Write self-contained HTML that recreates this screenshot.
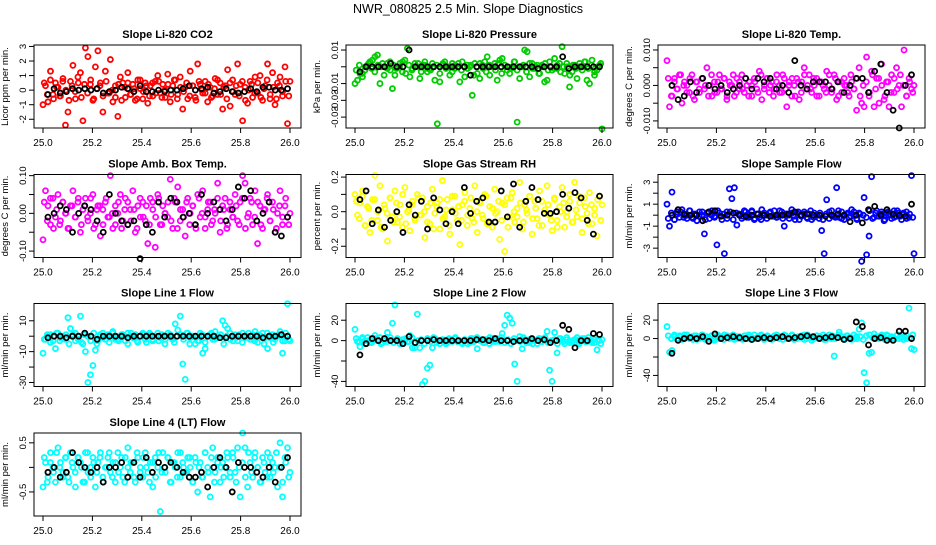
<!DOCTYPE html>
<html><head><meta charset="utf-8">
<style>
html,body{margin:0;padding:0;background:#fff;}
svg text{font-family:"Liberation Sans",sans-serif;}
</style></head>
<body>
<svg id="chart" width="936" height="540" viewBox="0 0 936 540" xmlns="http://www.w3.org/2000/svg">
<text x="468" y="13" text-anchor="middle" font-size="12.5">NWR_080825  2.5 Min. Slope Diagnostics</text>
</svg>
<script>
const xTicks = [25.0, 25.2, 25.4, 25.6, 25.8, 26.0];
const xTickLabels = ["25.0", "25.2", "25.4", "25.6", "25.8", "26.0"];
const co2Color = [-1.0,0.3,-0.8,1.3,-0.3,0.5,0.2,-0.4,0.8,-2.4,-1.5,0.6,1.7,-0.6,0.9,1.2,-2.1,2.9,2.3,0.4,-0.7,1.6,2.7,0.5,-1.5,1.3,-0.2,2.1,-0.8,0.3,-1.8,0.9,0.5,-0.5,1.2,-0.3,0.4,-0.7,0.7,0.1,-0.6,0.5,-0.9,0.3,-0.4,0.6,1.0,-0.2,0.4,-0.5,1.1,-0.8,0.3,0.7,-0.3,0.9,-1.3,0.2,-0.6,1.3,0.3,-0.5,1.8,0.4,-0.2,0.6,-0.8,0.2,-0.4,0.8,-0.3,0.5,-1.3,0.3,1.4,-1.1,0.7,-0.3,1.8,0.4,-2.1,0.2,-0.9,0.6,-0.5,0.9,-0.2,1.0,-0.7,0.3,1.8,-0.6,1.2,-1.0,0.5,0.9,-0.4,1.6,-2.3,0.6];
const co2Band = [5,-3,7,-6,2,-4,6,0,-7,3,-1,5,-5,4,-2,7,-6,1,3,-4,6,-2,0,-5,4,-7,2,5,-3,1,-6,7,-1,3,-4,5,-2,6,-5,0,4,-3,7,-6,2,-1,5,-4,3,-7,6,0,-2,4,-5,1,7,-3,2,-6,5,-1,3,-4,6,-7,0,4,-2,5,-5,1,7,-3,2,-6,3,-1,6,-4];
const co2Black = [-0.3,0.1,-0.2,-0.1,0.1,0.0,0.1,0.0,0.1,-0.2,-0.1,0.0,0.2,0.1,-0.1,0.3,-0.1,-0.1,0.0,-0.1,0.0,0.0,0.1,0.3,0.0,0.1,0.2,-0.2,-0.1,0.1,-0.1,-0.2,-0.1,0.1,-0.1,0.2,0.2,0.0,0.0,0.1];
const presColor = [-10,-8,-4,-6,-2,1,3,4,6,7,-10,2,0,-1,3,-13,-5,0,2,-3,4,11,-6,-1,2,0,-7,1,3,-3,-1,2,-8,-34,-9,1,3,0,-5,2,-1,0,-9,3,-6,1,0,-17,2,-4,-7,1,3,6,-5,0,2,-8,4,5,1,-2,-4,0,3,-33,-7,0,10,9,-6,2,-1,1,-4,0,-9,-8,3,-2,5,-1,2,12,-4,0,-12,-3,1,-7,2,0,3,-8,-10,4,-5,-2,1,-37];
const presBand = [-2,1,-4,0,2,-1,-3,1,0,-5,2,-2,1,-1,0,3,-4,1,-2,0,2,-3,1,-1,-2,0,1,-4,2,-1,0,-3,1,2,-2,0,-1,1,-5,0,2,-1,-3,1,0,-2,2,-4,1,0,-1,3,-2,0,1,-3,2,-1,0,-4,1,2,-2,0,-1,1,-3,0,2,-5,1,-1,0,-2,3,-1,1,-3,0,2];
const presBlack = [-3,0,0,0,0,2,0,0,10,0,0,0,0,0,0,0,0,0,-5,0,0,0,0,0,0,0,0,0,0,-1,0,0,0,6,-1,0,0,0,0,0];
const tempColor = [7,-6,-3,2,-1,3,-5,1,0,-2,3,-4,1,-2,2,-1,5,0,-3,1,-2,3,-1,2,-4,1,0,-3,2,-1,3,-2,0,1,-3,2,-1,4,-4,0,2,-2,1,-1,3,0,-2,2,-6,1,-3,0,2,-4,1,5,-1,3,-2,0,2,-3,1,-1,4,0,-2,3,-4,1,-2,2,0,-3,1,-1,-7,5,-5,-6,8,-3,4,-6,2,-5,6,-4,1,-6,3,-2,5,0,-6,10,-3,2,-1,0];
const tempBand = [2,-3,1,-1,3,0,-2,2,-3,1,-1,2,0,-3,3,-2,1,-1,2,-3,0,3,-2,1,-1,2,-3,0,1,-2,3,-1,2,0,-3,1,-2,3,-1,0,2,-3,1,-2,3,0,-1,2,-3,1,0,-2,3,-1,2,-3,1,0,-2,3,-1,2,-3,0,1,-2,3,-1,2,0,-3,1,-2,2,-1,3,0,-3,1,-2];
const tempBlack = [0,-4,-3,1,-2,2,0,-1,0,-2,-1,0,2,-1,2,1,2,-1,0,-2,7,0,-1,1,1,1,-1,1,-2,0,2,2,-2,4,6,-2,-7,-12,0,3];
const ambColor = [-7,6,2,-3,4,-1,5,-2,3,0,-4,2,6,-1,3,-5,1,4,-2,0,5,-3,2,-6,1,3,-1,10,-4,2,0,5,-2,4,-3,1,6,-5,2,-1,3,-2,-8,4,1,-9,5,-3,2,0,-1,9,-4,3,7,-2,1,-6,4,0,2,-3,5,-1,6,-4,1,3,-2,0,8,-5,2,4,-3,1,-1,5,-2,3,10,8,-1,4,-3,6,-8,2,-4,1,5,-2,3,-5,0,6,-3,2,-1,0];
const ambBand = [3,-2,4,-4,1,-3,3,0,-4,2,-1,4,-3,2,-1,4,-4,1,2,-3,4,-1,0,-3,3,-4,1,3,-2,1,-4,4,-1,2,-3,3,-1,4,-3,0,3,-2,4,-4,1,-1,3,-3,2,-4,4,0,-1,3,-3,1,4,-2,1,-4,3,-1,2,-3,4,-4,0,3,-1,3,-3,1,4,-2,1,-4,2,-1,4,-3];
const ambBlack = [-1,0,2,1,-5,0,2,1,-2,-5,5,0,-2,-3,-2,-12,-3,-5,3,-1,4,3,-1,0,-3,5,0,3,1,-2,1,7,4,6,-2,0,3,-5,-6,-1];
const rhColor = [10,-2,5,12,-8,3,-12,7,21,-5,15,-10,2,-17,8,-3,12,-6,4,-9,14,0,-11,6,-4,10,-2,8,-15,3,-7,13,-1,5,-10,18,-3,7,-13,1,9,-5,-19,4,11,-8,2,-4,15,-12,6,-2,10,-7,3,-9,13,0,-16,5,-23,8,-3,11,-6,2,17,-10,4,-1,9,-13,6,-4,12,-8,1,15,-2,-11,7,-5,3,14,-9,0,10,-6,17,-3,5,-12,8,-1,11,-7,2,-14,9,4];
const rhBand = [6,-4,9,-8,2,-5,7,0,-9,4,-1,8,-6,5,-3,10,-7,1,4,-5,8,-2,0,-6,5,-10,3,7,-4,1,-8,9,-1,3,-5,6,-2,8,-6,0,5,-4,9,-7,2,-1,6,-5,4,-9,8,0,-3,5,-6,1,9,-4,2,-8,6,-1,4,-5,8,-9,0,5,-3,6,-6,1,9,-4,3,-7,4,-2,7,-5];
const rhBlack = [7,12,-7,1,-9,-5,0,-12,4,-2,6,-10,8,1,-7,0,-7,14,-1,6,8,-6,-6,12,-3,16,-9,6,14,7,-1,-1,0,10,2,11,8,-5,-13,9];
const sampColor = [10,-10,21,-4,3,-2,5,0,-3,4,-2,1,-5,3,0,-17,2,-3,4,-1,-27,2,-4,-35,3,24,15,25,-9,1,-3,4,-2,0,3,-4,1,-2,5,0,-3,2,-1,4,-2,0,3,-10,1,-3,5,-1,2,-4,0,3,-2,1,-4,2,0,-3,-14,-35,14,-3,4,-1,25,-2,3,-4,1,-2,5,0,-3,2,-42,16,-36,-19,35,-2,4,-1,3,-5,2,0,-3,4,-1,2,-4,1,3,-2,36,-35];
const sampBand = [-3,2,-4,1,3,-2,0,4,-3,1,-1,3,-4,2,0,-2,4,-1,1,-3,3,-4,2,0,-1,3,-2,4,-3,1,-4,2,0,3,-1,-2,4,-3,1,0,2,-4,3,-1,1,-3,4,-2,0,2,-4,1,3,-1,-2,4,-3,0,2,-1,3,-4,1,0,-2,4,-3,2,-1,1,-4,3,0,-2,4,-1,2,-3,1,-2];
const sampBlack = [0,5,1,0,0,-5,3,4,-1,0,2,0,-1,0,1,0,-1,0,0,1,3,0,1,0,0,-1,0,1,0,-6,0,-7,5,8,0,5,1,0,-1,10];
const l1Color = [-11,-2,0,1,-3,-8,2,-1,0,-2,12,5,1,-3,0,13,-5,-10,-30,-25,-19,-9,-3,0,2,-2,1,0,3,-1,-2,0,1,-3,2,0,-1,1,-4,0,2,-2,0,1,-3,0,2,-1,0,-2,0,1,-2,8,4,13,-18,-28,2,-1,0,-5,-3,2,-11,-8,0,1,-2,3,0,-1,10,7,5,-2,0,1,-3,0,2,-1,0,-2,1,3,-4,0,2,-1,-8,0,1,-2,0,3,-11,-3,21,-3];
const l1Band = [-2,1,-4,0,2,-3,-1,1,-5,0,2,-2,-4,1,0,-3,2,-5,1,-1,0,-4,2,-2,-3,1,0,-5,2,-1,-3,0,1,-4,2,-2,0,-3,1,-5,2,-1,-4,0,1,-2,2,-5,0,-1,-3,1,-4,0,2,-2,-1,1,-5,0,2,-3,-1,1,-4,0,2,-2,-3,1,0,-5,2,-1,-4,0,1,-3,2,-2];
const l1Black = [-1,0,0,-1,0,0,2,0,-2,0,0,0,0,-1,0,0,0,0,0,0,0,0,0,0,0,0,0,0,-1,-1,0,0,0,0,0,-1,0,0,1,0];
const l2Color = [11,-1,-6,2,0,3,-2,1,5,0,3,-2,1,8,0,17,35,2,-3,1,0,-1,5,-7,-7,26,-7,-43,-40,-27,-24,-7,2,0,-3,1,0,-2,1,0,2,-1,0,-3,1,0,-2,2,0,-8,1,0,-2,1,3,-1,0,2,-1,7,15,25,22,17,-23,-40,4,-8,1,0,-2,1,0,-3,2,-1,0,9,-29,-40,8,-12,2,0,-3,1,0,-2,1,3,-1,0,2,-1,0,-2,1,-9,0,1];
const l2Band = [2,-1,3,-3,0,-2,2,1,-3,0,-1,3,-2,1,0,-3,2,-1,3,-2,0,1,-3,2,-1,3,-2,0,1,-3,2,-1,3,0,-2,1,-3,2,-1,3,0,-2,1,-3,2,-1,0,3,-2,1,-3,2,0,-1,3,-2,1,-3,0,2,-1,3,-2,0,1,-3,2,-1,3,-2,0,1,-3,2,-1,3,0,-2,1,-3];
const l2Black = [-14,-3,2,0,2,0,0,-3,4,-2,0,0,1,0,0,0,0,0,0,1,1,0,2,0,0,-1,0,0,2,0,1,-2,0,15,11,-7,0,0,7,6];
const l3Color = [13,-15,-13,2,0,3,-1,4,1,0,2,3,-1,0,4,1,2,0,3,-2,1,0,2,4,1,0,3,-1,2,0,1,3,0,2,-1,4,0,1,3,0,2,0,-1,3,1,0,2,4,0,1,3,-1,0,2,1,4,0,2,-2,1,3,0,1,-1,2,4,0,-19,1,7,2,0,3,1,-1,0,2,10,17,-37,-48,-16,-15,5,2,0,3,1,4,0,2,-1,3,0,1,2,0,33,-11,-12];
const l3Band = [3,0,4,-1,2,1,4,0,-1,3,2,4,-1,1,3,0,4,2,-1,3,1,4,0,2,-1,3,4,1,0,2,4,-1,3,1,0,4,2,-1,3,1,4,0,2,3,-1,4,1,0,3,2,4,-1,1,3,0,4,2,-1,3,1,4,0,2,-1,3,4,1,0,2,4,-1,3,1,0,4,2,-1,3,1,4];
const l3Black = [-16,-2,0,1,0,2,-3,5,0,1,2,1,0,-1,0,1,0,1,2,0,1,2,3,2,0,1,2,1,-1,0,18,13,-7,0,1,-2,-2,8,8,0];
const l4Color = [-0.4,0.1,-0.2,0.3,0.0,-0.3,0.4,0.1,-0.1,0.2,-0.2,0.3,0.0,-0.4,0.2,0.1,-0.3,0.3,-0.1,0.0,0.2,-0.4,0.1,0.3,-0.2,0.0,0.2,-0.1,0.1,-0.3,0.3,0.0,-0.2,0.2,0.4,-0.1,0.1,-0.3,0.2,0.0,-0.2,0.3,-0.1,0.1,-0.4,0.2,0.0,-0.9,0.3,-0.1,0.2,-0.3,0.1,0.0,0.3,-0.2,0.1,-0.1,0.2,0.0,-0.3,0.2,-0.5,0.1,-0.2,0.3,0.0,-0.6,0.4,-0.1,0.2,-0.3,0.1,0.0,0.2,-0.2,0.3,-0.1,0.4,-0.6,0.7,0.4,-0.4,0.1,-0.2,0.3,0.0,-0.3,0.2,-0.1,0.3,-0.2,0.1,0.0,-0.4,0.5,-0.6,0.2,0.4,-0.1];
const l4Band = [2,-3,1,-1,3,0,-2,2,-3,1,-1,2,0,-3,3,-2,1,-1,2,-3,0,3,-2,1,-1,2,-3,0,1,-2,3,-1,2,0,-3,1,-2,3,-1,0,2,-3,1,-2,3,0,-1,2,-3,1,0,-2,3,-1,2,-3,1,0,-2,3,-1,2,-3,0,1,-2,3,-1,2,0,-3,1,-2,2,-1,3,0,-3,1,-2];
const l4Black = [-0.1,0.0,-0.2,-0.1,0.3,0.1,0.0,-0.1,0.0,-0.3,0.0,0.0,0.1,-0.2,0.1,-0.2,0.2,-0.1,0.1,0.0,0.1,0.0,-0.1,-0.2,-0.2,-0.1,-0.4,0.0,0.2,0.0,-0.5,0.1,0.0,0.0,-0.1,-0.2,0.0,-0.3,0.0,0.2];

const NS = "http://www.w3.org/2000/svg";
const svg = document.getElementById("chart");
function mk(tag, attrs, parent) {
  const e = document.createElementNS(NS, tag);
  for (const k in attrs) e.setAttribute(k, attrs[k]);
  (parent || svg).appendChild(e);
  return e;
}
const panels = [
  {name:"co2", title:"Slope Li-820 CO2", ylab:"Licor ppm per min.", col:0, row:0, ymin:-2.6, ymax:3.1, scale:1, bscale:0.1, color:"#ff0000", data:co2Color, band:co2Band, black:co2Black, ticks:[-2,-1,0,1,2,3], labels:["-2","-1","0","1","2","3"]},
  {name:"pressure", title:"Slope Li-820 Pressure", ylab:"kPa per min.", col:1, row:0, ymin:-0.0365, ymax:0.013, scale:0.001, bscale:0.001, color:"#00cc00", data:presColor, band:presBand, black:presBlack, ticks:[0.01,0,-0.01,-0.02,-0.03], labels:["0.01","","-0.01","-0.03","-0.03"]},
  {name:"temp", title:"Slope Li-820 Temp.", ylab:"degrees C per min.", col:2, row:0, ymin:-0.012, ymax:0.0114, scale:0.001, bscale:0.001, color:"#ff00ff", data:tempColor, band:tempBand, black:tempBlack, ticks:[0.01,0.005,0,-0.005,-0.01], labels:["0.010","","0.000","","-0.010"]},
  {name:"amb-box", title:"Slope Amb. Box Temp.", ylab:"degrees C per min.", col:0, row:1, ymin:-0.117, ymax:0.103, scale:0.01, bscale:0.01, color:"#ff00ff", data:ambColor, band:ambBand, black:ambBlack, ticks:[0.1,0.05,0,-0.05,-0.1], labels:["0.10","","0.00","","-0.10"]},
  {name:"rh", title:"Slope Gas Stream RH", ylab:"percent per min.", col:1, row:1, ymin:-0.265, ymax:0.215, scale:0.01, bscale:0.01, color:"#ffff00", data:rhColor, band:rhBand, black:rhBlack, ticks:[0.2,0.1,0,-0.1,-0.2], labels:["0.2","","0.0","","-0.2"]},
  {name:"sample-flow", title:"Slope Sample Flow", ylab:"ml/min per min.", col:2, row:1, ymin:-3.85, ymax:3.7, scale:0.1, bscale:0.1, color:"#0000ff", data:sampColor, band:sampBand, black:sampBlack, ticks:[3,2,1,0,-1,-2,-3], labels:["3","","1","","-1","","-3"]},
  {name:"line1", title:"Slope Line 1 Flow", ylab:"ml/min per min.", col:0, row:2, ymin:-32.6, ymax:21.2, scale:1, bscale:1, color:"#00ffff", data:l1Color, band:l1Band, black:l1Black, ticks:[10,0,-10,-20,-30], labels:["10","","-10","","-30"]},
  {name:"line2", title:"Slope Line 2 Flow", ylab:"ml/min per min.", col:1, row:2, ymin:-45, ymax:36.4, scale:1, bscale:1, color:"#00ffff", data:l2Color, band:l2Band, black:l2Black, ticks:[20,0,-20,-40], labels:["20","0","","-40"]},
  {name:"line3", title:"Slope Line 3 Flow", ylab:"ml/min per min.", col:2, row:2, ymin:-52, ymax:38, scale:1, bscale:1, color:"#00ffff", data:l3Color, band:l3Band, black:l3Black, ticks:[20,0,-20,-40], labels:["20","0","","-40"]},
  {name:"line4", title:"Slope Line 4 (LT) Flow", ylab:"ml/min per min.", col:0, row:3, ymin:-0.99, ymax:0.70, scale:1, bscale:0.1, color:"#00ffff", data:l4Color, band:l4Band, black:l4Black, ticks:[0.5,0,-0.5], labels:["0.5","","-0.5"]}
];
const lefts = [34, 346, 658];
const tops = [45, 174.5, 303.5, 433];
const W = 267, H = 83;
panels.forEach(p => {
  const L = lefts[p.col], T = tops[p.row];
  const g = mk("g", {});
  
  
  const xs = v => L + 9 + (v - 25) * 247;
  const ys = v => T + (p.ymax - v) / (p.ymax - p.ymin) * H;
  const t = mk("text", {x: L + W/2, y: T - 7, "text-anchor":"middle", "font-size":"11", "font-weight":"bold"}, g);
  
  
  t.textContent = p.title;
  const yl = mk("text", {x: 0, y: 0, transform:`translate(${L-26},${T+H/2}) rotate(-90)`, "text-anchor":"middle", "font-size":"9.5"}, g);
  
  
  yl.textContent = p.ylab;
  const pts = mk("g", {fill:"none", "stroke-width":"1.8"}, g);
  
  
  const nb = p.band.length;
  p.band.forEach((v, i) => {
    const c = mk("circle", {cx: xs(25.005 + 0.99*i/(nb-1)), cy: ys(v * p.bscale), r: 2.5, stroke: p.color}, pts);
    
    
  });
  const n = p.data.length;
  p.data.forEach((v, i) => {
    const c = mk("circle", {cx: xs(25 + i/(n-1)), cy: ys(v * p.scale), r: 2.5, stroke: p.color}, pts);
    
    
  });
  const m = p.black.length;
  p.black.forEach((v, i) => {
    const c = mk("circle", {cx: xs(25.02 + 0.97*i/(m-1)), cy: ys(v * p.scale), r: 2.5, stroke: "#000"}, pts);
    
    
  });
  const box = mk("rect", {x: L, y: T, width: W, height: H, fill:"none", stroke:"#000", "stroke-width":"1"}, g);
  
  
  const xa = mk("g", {}, g);
  
  
  xTicks.forEach((v, i) => {
    mk("line", {x1: xs(v), x2: xs(v), y1: T+H, y2: T+H+5, stroke:"#000"}, xa);
    const tl = mk("text", {x: xs(v), y: T+H+18, "text-anchor":"middle", "font-size":"10"}, xa);
    
    
    tl.textContent = xTickLabels[i];
  });
  const ya = mk("g", {}, g);
  
  
  p.ticks.forEach((v, i) => {
    mk("line", {x1: L-5, x2: L, y1: ys(v), y2: ys(v), stroke:"#000"}, ya);
    if (p.labels[i]) {
      const tl = mk("text", {x: 0, y: 0, transform:`translate(${L-8},${ys(v)}) rotate(-90)`, "text-anchor":"middle", "font-size":"9.5"}, ya);
      
      
      tl.textContent = p.labels[i];
    }
  });
});
</script>
</body></html>
